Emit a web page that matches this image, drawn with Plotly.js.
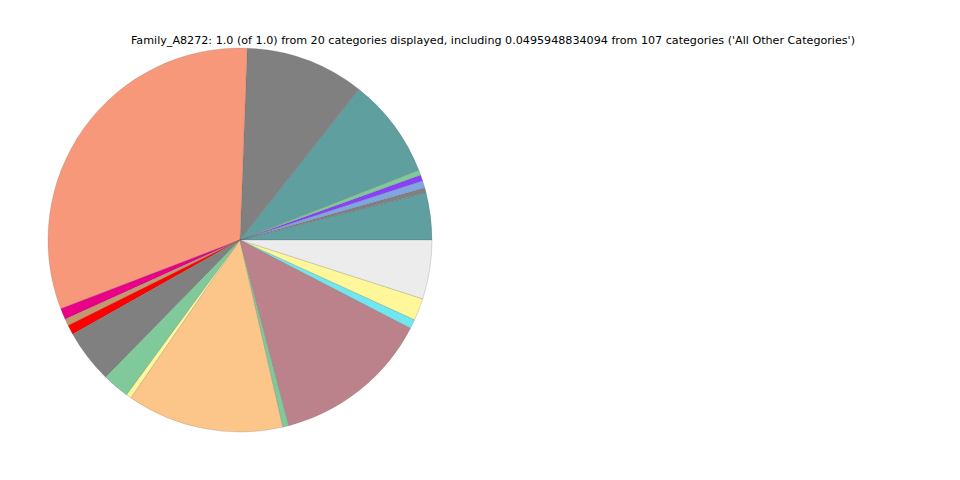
<!DOCTYPE html>
<html>
<head>
<meta charset="utf-8">
<script src="https://cdn.plot.ly/plotly-3.0.1.min.js"></script>
<style>html,body{margin:0;padding:0;background:#fff;}#chart{width:960px;height:480px;}</style>
</head>
<body>
<div id="chart"></div>
<script>
const titleText = "Family_A8272: 1.0 (of 1.0) from 20 categories displayed, including 0.0495948834094 from 107 categories ('All Other Categories')";
const categories = [
  "Category 1","Category 2","Category 3","Category 4","Category 5",
  "Category 6","Category 7","Category 8","Category 9","Category 10",
  "Category 11","Category 12","Category 13","Category 14","Category 15",
  "Category 16","Category 17","Category 18","Category 19","All Other Categories"
];
const values = [
  0.0397, 0.0042, 0.0061, 0.0050, 0.0044,
  0.0844, 0.1003, 0.3144, 0.0094, 0.0058,
  0.0081, 0.0450, 0.0228, 0.0044, 0.1322,
  0.0050, 0.1331, 0.0078, 0.0186, 0.0496
];
const colors = [
  "#5f9f9f","#808080","#7fa6e0","#8a3ffc","#7fc99a",
  "#5f9f9f","#808080","#f7987a","#ea0087","#c49a6c",
  "#ff0000","#808080","#7fc99a","#fff799","#fcc58a",
  "#7fc99a","#bc828c","#70e6ee","#fff799","#ececec"
];

// Plotly places the first counterclockwise slice clockwise of the rotation angle,
// so shift by the first slice so that the pie starts at 3 o'clock like matplotlib.
const total = values.reduce((a, b) => a + b, 0);
const startRotation = 90 - values[0] / total * 360;

const trace = {
  type: "pie",
  labels: categories,
  values: values,
  sort: false,
  direction: "counterclockwise",
  rotation: startRotation,
  textinfo: "none",
  hoverinfo: "label+value",
  marker: { colors: colors, line: { color: "rgba(90,90,90,0.5)", width: 0.4 } },
  domain: { x: [48/960, 432/960], y: [48/480, 432/480] },
  showlegend: false
};

const layout = {
  width: 960, height: 480,
  margin: { l: 0, r: 0, t: 0, b: 0 },
  paper_bgcolor: "#ffffff",
  showlegend: false,
  title: {
    text: titleText,
    font: { family: "DejaVu Sans", size: 11.15, color: "#000" },
    x: 493/960, xanchor: "center", xref: "paper",
    y: 1 - 40/480, yanchor: "middle", yref: "container"
  }
};

Plotly.newPlot("chart", [trace], layout, { displayModeBar: false, staticPlot: true });
</script>
</body>
</html>
